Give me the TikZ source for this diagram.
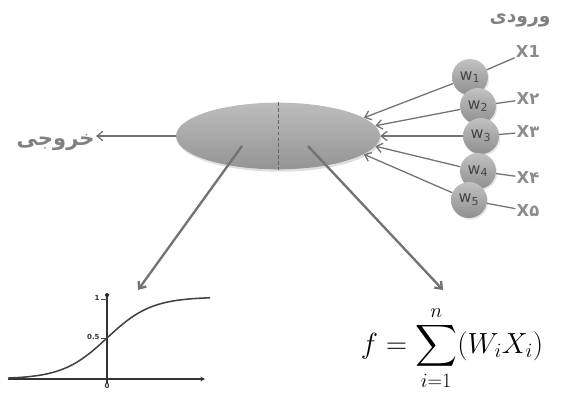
\documentclass[tikz,border=0pt]{standalone}
\usepackage{fontspec}
\usepackage{amsmath}
\setsansfont{DejaVu Sans}
\newfontfamily\arabicfont[Script=Arabic]{DejaVu Sans}
\TeXXeTstate=1
\usetikzlibrary{shapes.geometric,arrows.meta,shadows}

\begin{document}
\begin{tikzpicture}[x=0.03cm,y=-0.03cm, >={Straight Barb[length=5pt,width=8pt]},
  neuron/.style={ellipse,minimum width=6.12cm,minimum height=2cm,top color=black!26,bottom color=black!42,
    drop shadow={opacity=.25,shadow xshift=1pt,shadow yshift=-2pt}},
  weight/.style={circle,minimum size=1.08cm,inner sep=0pt,top color=black!24,bottom color=black!44,
    drop shadow={opacity=.2,shadow xshift=1pt,shadow yshift=-1.5pt},font=\sffamily\fontsize{13.5}{15}\selectfont,text=black!72},
  xin/.style={font=\sffamily\bfseries\fontsize{14}{16}\selectfont,text=black!45,inner sep=1pt},
  wire/.style={black!55,line width=1.1pt},
  feed/.style={black!55,line width=1.1pt,->},
  link/.style={black!55,line width=2pt,->},
  faword/.style={font=\arabicfont\bfseries,text=black!50,inner sep=1pt},
  tick/.style={font=\sffamily\bfseries\fontsize{6}{7}\selectfont,text=black!80,inner sep=1pt}]
\useasboundingbox (0,0) rectangle (569,396);

% the neuron and its five weighted inputs
\node[neuron] (ell) at (278,136) {};
\draw[black!60,densely dashed,thin] (ell.north) -- (ell.south);

\node[faword,font=\arabicfont\bfseries\fontsize{16}{18}\selectfont] (intxt) at (520,20) {\beginR ورودی\endR};

\node[weight] (w1) at (470,77) {w\textsubscript{1}};
\node[weight] (w2) at (478,106) {w\textsubscript{2}};
\node[weight] (w3) at (481,136) {w\textsubscript{3}};
\node[weight] (w4) at (478,171) {w\textsubscript{4}};
\node[weight] (w5) at (469,200) {w\textsubscript{5}};

\node[xin] (x1) at (528,52) {X1};
\node[xin] (x2) at (528,99) {X{\arabicfont ۲}};
\node[xin] (x3) at (528,132) {X{\arabicfont ۳}};
\node[xin] (x4) at (528,178) {X{\arabicfont ۴}};
\node[xin] (x5) at (528,211) {X{\arabicfont ۵}};

\foreach \i in {1,...,5} \draw[wire] (x\i) -- (w\i);

\draw[feed] (w1) -- (ell.12);
\draw[feed] (w2) -- (ell.6);
\draw[feed] (w3) -- (ell.0);
\draw[feed] (w4) -- (ell.-6);
\draw[feed] (w5) -- (ell.-12);

% output
\node[faword,font=\arabicfont\bfseries\fontsize{18}{20}\selectfont,anchor=east] (outtxt) at (96,142) {\beginR خروجی\endR};
\draw[feed] (ell.west) -- (ell.west -| outtxt.east);

% the two parts of the neuron
\coordinate (actsrc) at (242,146);
\coordinate (sumsrc) at (308,146);
\coordinate (acttip) at (138,290);
\coordinate (sumtip) at (443,290);
\draw[link] (actsrc) -- (acttip);
\draw[link] (sumsrc) -- (sumtip);

% sigmoid
\coordinate (o) at (107,379);
\draw[black!80,line width=1.6pt,-{Stealth[length=4pt,width=4pt]}] (8,379) -- (205,379);
\draw[black!80,line width=1.6pt] (107,383) -- (107,295);
\fill[black!85] (107,295) circle (1.7pt);
\draw[black!70,line width=.6pt] (101,299) -- (107,299) (101,338) -- (107,338);
\node[tick,anchor=east] (one) at (101,298) {1};
\node[tick,anchor=east] (half) at (101,337) {0.5};
\node[tick,anchor=north] (zero) at (107,382) {0};
\draw[black!75,line width=1.3pt] plot[domain=8:210,samples=90,smooth] (\x,{379-82/(1+exp(-0.045*(\x-107)))});

% summation
\node[font=\fontsize{23}{27}\selectfont] (sumf) at (452,348) {$\displaystyle f=\sum_{i=1}^{n}(W_iX_i)$};
\end{tikzpicture}
\end{document}
